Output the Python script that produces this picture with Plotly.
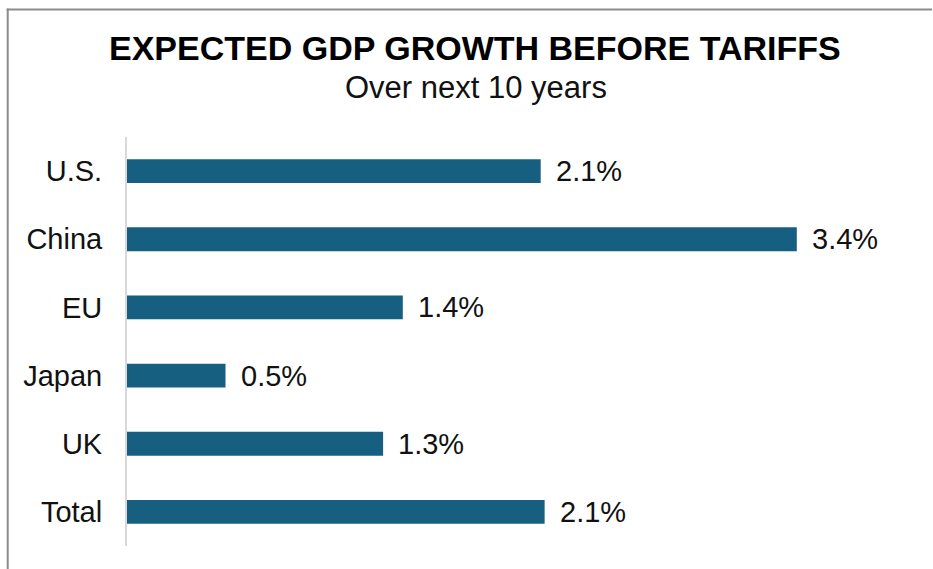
import plotly.graph_objects as go

categories = ["U.S.", "China", "EU", "Japan", "UK", "Total"]
values = [2.1, 3.4, 1.4, 0.5, 1.3, 2.12]
labels = ["2.1%", "3.4%", "1.4%", "0.5%", "1.3%", "2.1%"]

title_text = "EXPECTED GDP GROWTH BEFORE TARIFFS"
subtitle_text = "Over next 10 years"

W, H = 933, 569
L, R, T, B = 127, 18, 137, 23
pw = W - L - R
ph = H - T - B

def px_x(p):
    return (p - L) / pw

def px_y(p):
    return (H - B - p) / ph

FONT = "Liberation Sans, Arial, sans-serif"

fig = go.Figure()
fig.add_trace(go.Bar(
    y=categories, x=values, orientation="h",
    marker=dict(color="#175F80", line=dict(width=0)),
    width=0.35,
    hoverinfo="skip",
))

for c, v, t in zip(categories, values, labels):
    fig.add_annotation(x=v, y=c, xref="x", yref="y", text=t, showarrow=False,
                       xanchor="left", yanchor="middle", xshift=13,
                       font=dict(family=FONT, size=29, color="#111111"))

fig.add_annotation(x=px_x(475), y=px_y(48), xref="paper", yref="paper",
                   text="<b>" + title_text + "</b>", showarrow=False,
                   xanchor="center", yanchor="middle",
                   font=dict(family=FONT, size=34, color="#000000"))
fig.add_annotation(x=px_x(476), y=px_y(87), xref="paper", yref="paper",
                   text=subtitle_text, showarrow=False,
                   xanchor="center", yanchor="middle",
                   font=dict(family=FONT, size=31, color="#111111"))

# frame: top and left edges only (right and bottom lie outside the view)
fig.add_shape(type="line", xref="paper", yref="paper",
              x0=px_x(6.7), x1=px_x(W - 1), y0=px_y(9.5), y1=px_y(9.5),
              line=dict(color="#8c8c8c", width=2), layer="below")
fig.add_shape(type="line", xref="paper", yref="paper",
              x0=px_x(7.7), x1=px_x(7.7), y0=px_y(8.5), y1=px_y(H),
              line=dict(color="#8c8c8c", width=2), layer="below")

fig.update_layout(
    width=W, height=H,
    margin=dict(l=L, r=R, t=T, b=B, autoexpand=False),
    paper_bgcolor="white", plot_bgcolor="white",
    showlegend=False,
    bargap=0.65,
)
fig.update_xaxes(range=[0, pw / 197.0], visible=False, showgrid=False, zeroline=False)
fig.update_yaxes(autorange="reversed", showgrid=False, zeroline=False,
                 showline=True, linecolor="#d9d9d9", linewidth=2,
                 ticks="", ticklabelstandoff=17,
                 tickfont=dict(family=FONT, size=29, color="#111111"))

fig.write_html("out.html", config={"displayModeBar": False})
